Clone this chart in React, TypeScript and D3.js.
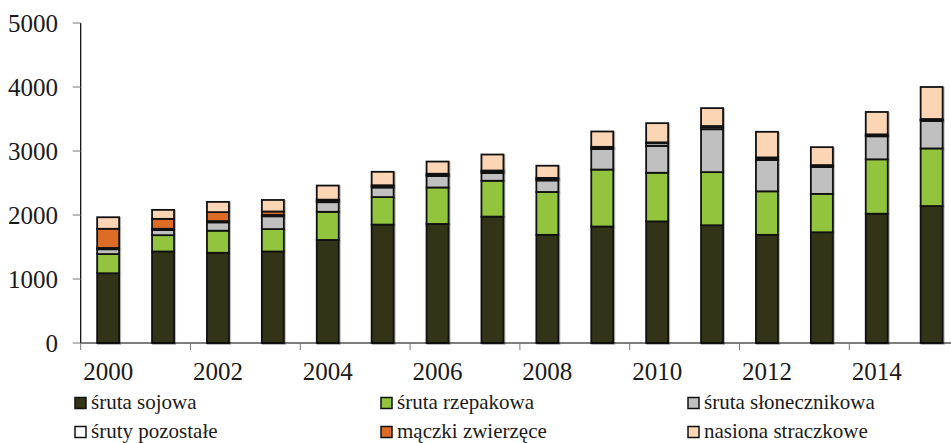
import React from "react";
import * as d3 from "d3";

const years = ["2000","2001","2002","2003","2004","2005","2006","2007","2008","2009","2010","2011","2012","2013","2014","2015"];
const tickYears = ["2000","2002","2004","2006","2008","2010","2012","2014"];
const soja = [1090,1430,1410,1430,1610,1850,1860,1975,1690,1820,1900,1840,1690,1730,2020,2140];
const rzepak = [300,255,345,350,440,430,570,560,670,890,760,830,680,600,850,900];
const slonecznik = [75,80,130,200,150,150,180,120,180,320,420,670,490,420,360,430];
const pozostale = [20,20,20,20,15,20,20,25,25,20,40,30,25,15,15,15];
const maczki = [300,155,140,55,25,15,15,15,15,15,15,20,15,15,15,15];
const nasiona = [180,140,160,180,220,210,190,250,190,240,300,280,400,280,350,500];
const yTicks = [0,1000,2000,3000,4000,5000];

const seriesNames = ["śruta sojowa","śruta rzepakowa","śruta słonecznikowa","śruty pozostałe","mączki zwierzęce","nasiona straczkowe"];
const seriesValues = [soja, rzepak, slonecznik, pozostale, maczki, nasiona];
const colors = ["#333318","#92c43e","#c0c0c0","#ffffff","#dd6d26","#fcd5b5"];

const W = 951, H = 443;
const x0 = 80.7, step = 54.9;
const css = `.st { font-family: "Liberation Serif", "Times New Roman", Times, "Tinos", "FreeSerif"; fill: #1a1a1a; }`;

export default function App() {
  const x = d3.scaleBand<string>().domain(years).range([x0, x0 + step * years.length]).paddingInner(0.6).paddingOuter(0.3);
  const y = d3.scaleLinear().domain([0, 5000]).range([343, 23]);
  const rows = years.map((yr, i) => {
    const o: any = { year: yr };
    seriesNames.forEach((n, k) => (o[n] = seriesValues[k][i]));
    return o;
  });
  const stack = d3.stack<any>().keys(seriesNames)(rows);
  const bw = 22;
  const legendCols = [75, 381, 688];
  const legendRows = [403, 432];
  return (
    <div style={{ position: "absolute", left: 0, top: 0, width: W, height: H, fontFamily: '"Liberation Serif"' }}>
      <style>{css}</style>
      <svg width={W} height={H} style={{ display: "block", background: "#fff" }}>
        {stack.map((layer, k) => (
          <g key={k}>
            {layer.map((d, i) => {
              const cx = (x(years[i]) as number) + x.bandwidth() / 2;
              const y1 = y(d[1]), y0 = y(d[0]);
              return (
                <rect key={i} x={cx - bw / 2 + 1} y={y1 + 1} width={bw} height={Math.max(0, y0 - y1)} fill="none" stroke="#bbb" strokeWidth={2} />
              );
            })}
          </g>
        ))}
        {stack.map((layer, k) => (
          <g key={"f" + k}>
            {layer.map((d, i) => {
              const cx = (x(years[i]) as number) + x.bandwidth() / 2;
              const y1 = y(d[1]), y0 = y(d[0]);
              return (
                <rect key={i} x={cx - bw / 2} y={y1} width={bw} height={Math.max(0, y0 - y1)} fill={colors[k]} stroke="#111" strokeWidth={1.8} />
              );
            })}
          </g>
        ))}
        <line x1={x0} x2={x0} y1={y(5000)} y2={343} stroke="#000" strokeWidth={1.2} />
        {yTicks.map((t) => (
          <g key={t}>
            <line x1={x0 - 8} x2={x0} y1={y(t)} y2={y(t)} stroke="#777" strokeWidth={1} />
            <text className="st" x={58} y={y(t) + 8.5} textAnchor="end" fontSize={25}>{t}</text>
          </g>
        ))}
        <line x1={x0} x2={x0 + step * years.length} y1={343} y2={343} stroke="#000" strokeWidth={1.2} />
        {tickYears.map((t) => {
          const i = years.indexOf(t);
          const left = x0 + step * i;
          const cx = (x(t) as number) + x.bandwidth() / 2;
          return (
            <g key={t}>
              <line x1={left} x2={left} y1={343} y2={350} stroke="#777" strokeWidth={1} />
              <text className="st" x={cx} y={380} textAnchor="middle" fontSize={25}>{t}</text>
            </g>
          );
        })}
        {seriesNames.map((n, k) => {
          const col = k % 3, row = Math.floor(k / 3);
          const lx = legendCols[col], ly = legendRows[row];
          return (
            <g key={n}>
              <rect x={lx} y={ly - 5.5} width={11} height={11} fill={colors[k]} stroke="#111" strokeWidth={1.5} />
              <text className="st" x={lx + 16} y={ly + 5.5} fontSize={21}>{n}</text>
            </g>
          );
        })}
      </svg>
    </div>
  );
}
